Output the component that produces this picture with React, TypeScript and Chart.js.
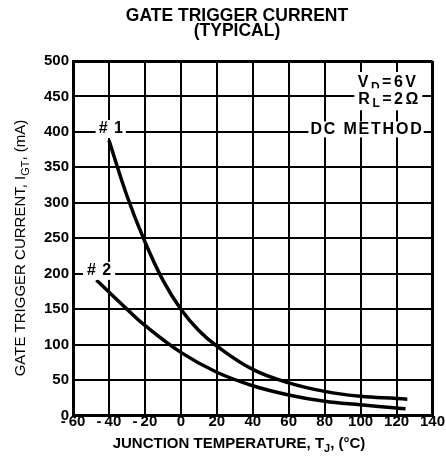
import React, { useEffect, useRef } from "react";
import { Chart, registerables } from "chart.js";

Chart.register(...registerables);

// ---------- data ----------
const curve1Temperatures = [-40, -30, -20, -10, 0, 10, 20, 40, 60, 80, 100, 120, 126];
const curve1Currents = [388, 310, 245, 191, 150, 120, 98, 65, 46, 34, 27, 24, 23];

const curve2Temperatures = [-47, -30, -20, 0, 20, 40, 60, 80, 100, 120, 125];
const curve2Currents = [191, 150, 127, 89, 61, 42, 29, 20, 15, 10.5, 9.5];

const xTickValues = [-60, -40, -20, 0, 20, 40, 60, 80, 100, 120, 140];
const yTickValues = [0, 50, 100, 150, 200, 250, 300, 350, 400, 450, 500];

const titleLines = ["GATE TRIGGER CURRENT", "(TYPICAL)"];
const curveNames = ["# 1", "# 2"];

// ---------- styling / layout ----------
const FONT = '"Liberation Sans", Arial, Helvetica, sans-serif';
const W = 446;
const H = 464;

type Part = { t: string; sub?: boolean };

function drawRich(
  ctx: CanvasRenderingContext2D,
  parts: Part[],
  x: number,
  y: number,
  align: "left" | "center" | "right",
  size: number,
  weight: string,
  spacing: number,
  box?: { padX: number; padY: number }
) {
  ctx.save();
  (ctx as any).letterSpacing = spacing + "px";
  const fonts = parts.map(
    (p) => `${weight} ${p.sub ? Math.round(size * 0.72) : size}px ${FONT}`
  );
  const widths = parts.map((p, i) => {
    ctx.font = fonts[i];
    return ctx.measureText(p.t).width;
  });
  const total = widths.reduce((a, b) => a + b, 0) - spacing;
  let cx = align === "left" ? x : align === "center" ? x - total / 2 : x - total;
  if (box) {
    ctx.fillStyle = "#fff";
    ctx.fillRect(cx - box.padX, y - size / 2 - box.padY, total + 2 * box.padX, size + 2 * box.padY);
  }
  ctx.fillStyle = "#000";
  ctx.textBaseline = "middle";
  ctx.textAlign = "left";
  parts.forEach((p, i) => {
    ctx.font = fonts[i];
    ctx.fillText(p.t, cx, p.sub ? y + size * 0.3 : y);
    cx += widths[i];
  });
  ctx.restore();
}

const annotationPlugin = {
  id: "annotations",
  afterDatasetsDraw(chart: any) {
    const ctx: CanvasRenderingContext2D = chart.ctx;
    const xs = chart.scales.x;
    const ys = chart.scales.y;
    const px = (v: number) => xs.getPixelForValue(v);
    const py = (v: number) => ys.getPixelForValue(v);

    // curve labels
    drawRich(ctx, [{ t: curveNames[0] }], px(-39), py(404), "center", 16, "bold", 1, { padX: 3, padY: 1 });
    drawRich(ctx, [{ t: curveNames[1] }], px(-45.5), py(204), "center", 16, "bold", 1, { padX: 4, padY: 1 });

    // conditions
    drawRich(
      ctx,
      [{ t: "V" }, { t: "D", sub: true }, { t: "=6V" }],
      px(130.8), py(469), "right", 16, "bold", 2.5, { padX: 4, padY: 3 }
    );
    drawRich(
      ctx,
      [{ t: "R" }, { t: "L", sub: true }, { t: "=2\u03A9" }],
      px(132.1), py(446), "right", 16, "bold", 2.5, { padX: 4, padY: 3 }
    );
    drawRich(ctx, [{ t: "DC METHOD" }], px(134), py(403.5), "right", 16, "bold", 1.8, { padX: 2, padY: 0 });
  },
  afterDraw(chart: any) {
    const ctx: CanvasRenderingContext2D = chart.ctx;
    // title
    drawRich(ctx, [{ t: titleLines[0] }], 237, 16, "center", 17.5, "bold", 0);
    drawRich(ctx, [{ t: titleLines[1] }], 237, 31.5, "center", 17.5, "bold", 0);
    // x axis title
    drawRich(
      ctx,
      [{ t: "JUNCTION TEMPERATURE, T" }, { t: "J", sub: true }, { t: ", (\u00B0C)" }],
      239, 444, "center", 15, "bold", 0
    );
    // y axis title
    ctx.save();
    ctx.translate(21, 248);
    ctx.rotate(-Math.PI / 2);
    drawRich(
      ctx,
      [{ t: "GATE TRIGGER CURRENT, I" }, { t: "GT", sub: true }, { t: ", (mA)" }],
      0, 0, "center", 15, "normal", 0
    );
    ctx.restore();
  },
};

export default function App() {
  const canvasRef = useRef<HTMLCanvasElement | null>(null);

  useEffect(() => {
    const canvas = canvasRef.current;
    if (!canvas) return;
    const xMax = xTickValues[xTickValues.length - 1];
    const yMax = yTickValues[yTickValues.length - 1];
    const chart = new Chart(canvas, {
      type: "line",
      data: {
        datasets: [
          {
            label: curveNames[0],
            data: curve1Temperatures.map((t, i) => ({ x: t, y: curve1Currents[i] })),
            borderColor: "#000",
            borderWidth: 3.5,
            pointRadius: 0,
            fill: false,
            tension: 0.4,
          },
          {
            label: curveNames[1],
            data: curve2Temperatures.map((t, i) => ({ x: t, y: curve2Currents[i] })),
            borderColor: "#000",
            borderWidth: 3.5,
            pointRadius: 0,
            fill: false,
            tension: 0.4,
          },
        ],
      },
      options: {
        responsive: false,
        animation: false,
        devicePixelRatio: 1,
        layout: { padding: { top: 61, right: 13.5, left: 0, bottom: 0 } },
        plugins: {
          legend: { display: false },
          title: { display: false },
          tooltip: { enabled: false },
        },
        scales: {
          x: {
            type: "linear",
            min: xTickValues[0],
            max: xMax,
            afterBuildTicks: (scale: any) => {
              scale.ticks = xTickValues.map((v) => ({ value: v }));
            },
            afterFit: (scale: any) => {
              scale.height = 48.5;
            },
            ticks: {
              color: "#000",
              font: { family: FONT, weight: "bold", size: 15 },
              padding: -3,
              maxRotation: 0,
              autoSkip: false,
              callback: (v: any) => (Number(v) < 0 ? "-\u2009" + Math.abs(Number(v)) : String(v)),
            },
            grid: {
              color: "#000",
              lineWidth: (c: any) => (c.tick && c.tick.value === xMax ? 3 : 2),
              drawTicks: false,
            },
            border: { color: "#000", width: 3 },
          },
          y: {
            type: "linear",
            min: yTickValues[0],
            max: yMax,
            afterBuildTicks: (scale: any) => {
              scale.ticks = yTickValues.map((v) => ({ value: v }));
            },
            afterFit: (scale: any) => {
              scale.width = 73;
            },
            ticks: {
              color: "#000",
              font: { family: FONT, weight: "bold", size: 15 },
              padding: 4,
              autoSkip: false,
              callback: (v: any) => String(v),
            },
            grid: {
              color: "#000",
              lineWidth: (c: any) => (c.tick && c.tick.value === yMax ? 3 : 2),
              drawTicks: false,
            },
            border: { color: "#000", width: 3 },
          },
        },
      },
      plugins: [annotationPlugin],
    } as any);
    return () => chart.destroy();
  }, []);

  return (
    <div style={{ position: "fixed", left: 0, top: 0, width: W, height: H, background: "#fff" }}>
      <canvas ref={canvasRef} width={W} height={H} style={{ display: "block" }} />
    </div>
  );
}
